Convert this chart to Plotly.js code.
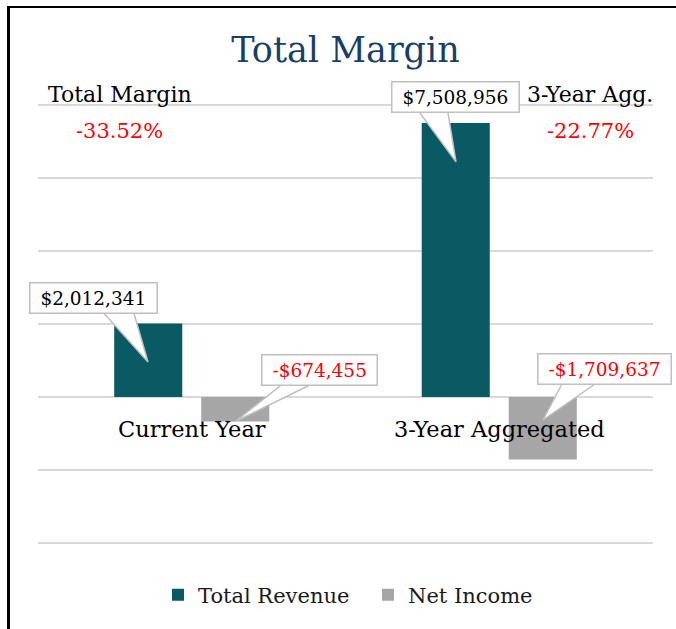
<!DOCTYPE html>
<html>
<head>
<meta charset="utf-8">
<script src="https://cdn.plot.ly/plotly-3.0.1.min.js"></script>
<style>
  html, body { margin: 0; padding: 0; background: #ffffff; overflow: hidden; }
  #wrap { position: relative; width: 676px; height: 629px; }
  #chart { position: absolute; left: 0; top: 0; width: 676px; height: 629px; }
  #frame { position: absolute; left: 7px; top: 6px; width: 720px; height: 700px;
           border-left: 3px solid #000; border-top: 2px solid #000; pointer-events: none; }
</style>
</head>
<body>
<div id="wrap">
  <div id="chart"></div>
  <div id="frame"></div>
</div>
<script>
// ---- data ----
const categories = ["Current Year", "3-Year Aggregated"];
const totalRevenue = [2012341, 7508956];
const netIncome = [-674455, -1709637];
const seriesNames = ["Total Revenue", "Net Income"];
const chartTitle = "Total Margin";
const marginLabels = ["Total Margin", "3-Year Agg."];
const marginValues = ["-33.52%", "-22.77%"];

// ---- style ----
const FONT = "DejaVu Serif";
const TEAL = "#095A63";
const GRAY = "#A6A6A6";
const CALLOUT = "#BFBFBF";

function money(v) {
  const s = "$" + Math.abs(v).toLocaleString("en-US");
  return v < 0 ? "-" + s : s;
}

// ---- geometry ----
const W = 676, H = 629;
const ML = 38, MR = 23;
const PXPERUNIT = 438 / 12000000;     // 73 px per 2M
const padPx = 4;                       // keep end gridlines visible
const PAD = padPx / PXPERUNIT;
const MT = 105 - padPx, MB = 86 - padPx;
const plotW = W - ML - MR, plotH = H - MT - MB;
const paperX = px => (px - ML) / plotW;
const paperY = py => (H - MB - py) / plotH;

// callout geometry (pixels, relative to category centre / bar end; y up)
const calloutRev = [
  { box: [-98.75, 25.6], tip: [-43.75, -38.4], base: [-90.75, -58.75, 13.6] },
  { box: [-44.25, 25.5], tip: [-43.25, -39.0], base: [-81.5, -51.75, 13.0] }
];
const calloutNI = [
  { box: [127.25, 52.1], tip: [43.5, 0.0], base: [92.0, 122.25, 38.6] },
  { box: [105.25, 90.9], tip: [43.75, 39.4], base: [65.35, 103.05, 80.4] }
];

const shapes = [];
const annotations = [];

function addCallout(cat, val, g, color) {
  shapes.push({
    type: "path", xref: "x", yref: "y",
    xsizemode: "pixel", ysizemode: "pixel",
    xanchor: cat, yanchor: val,
    path: `M${g.tip[0]},${g.tip[1]} L${g.base[0]},${g.base[2]} L${g.base[1]},${g.base[2]} Z`,
    fillcolor: "#ffffff", line: { color: CALLOUT, width: 1.5 }, layer: "above"
  });
  annotations.push({
    xref: "x", yref: "y", x: cat, y: val, showarrow: false,
    xshift: g.box[0], yshift: g.box[1],
    text: "\u00a0" + money(val) + "\u00a0",
    font: { family: FONT, size: 18.5, color: color },
    bgcolor: "#ffffff", bordercolor: CALLOUT, borderwidth: 1.5, borderpad: 4
  });
}

categories.forEach((c, i) => {
  addCallout(c, totalRevenue[i], calloutRev[i], totalRevenue[i] < 0 ? "#FF0000" : "#000000");
  addCallout(c, netIncome[i], calloutNI[i], netIncome[i] < 0 ? "#FF0000" : "#000000");
  // category label next to zero line
  annotations.push({
    xref: "x", yref: "y", x: c, y: 0, yshift: -32, showarrow: false,
    text: c, font: { family: FONT, size: 22.5, color: "#000000" }, yanchor: "middle"
  });
});

// margin text boxes
annotations.push({
  xref: "paper", yref: "paper", x: paperX(46), y: paperY(95), xanchor: "left", yanchor: "middle",
  showarrow: false, text: marginLabels[0], font: { family: FONT, size: 22, color: "#000000" }
});
annotations.push({
  xref: "paper", yref: "paper", x: paperX(119), y: paperY(131), xanchor: "center", yanchor: "middle",
  showarrow: false, text: marginValues[0], font: { family: FONT, size: 21, color: "#FF0000" }
});
annotations.push({
  xref: "paper", yref: "paper", x: paperX(525), y: paperY(95), xanchor: "left", yanchor: "middle",
  showarrow: false, text: marginLabels[1], font: { family: FONT, size: 22, color: "#000000" }
});
annotations.push({
  xref: "paper", yref: "paper", x: paperX(590), y: paperY(131), xanchor: "center", yanchor: "middle",
  showarrow: false, text: marginValues[1], font: { family: FONT, size: 21, color: "#FF0000" }
});

const traces = [
  { type: "bar", name: seriesNames[0], x: categories, y: totalRevenue,
    marker: { color: TEAL }, hoverinfo: "none" },
  { type: "bar", name: seriesNames[1], x: categories, y: netIncome,
    marker: { color: GRAY }, hoverinfo: "none" }
];

const layout = {
  width: W, height: H,
  margin: { l: ML, r: MR, t: MT, b: MB, pad: 0 },
  paper_bgcolor: "#ffffff", plot_bgcolor: "#ffffff",
  barmode: "group", bargap: 0.434, bargroupgap: 0.218,
  title: {
    text: chartTitle, xref: "paper", x: 0.5, xanchor: "center",
    yref: "container", y: 1 - 50 / H, yanchor: "middle",
    font: { family: FONT, size: 35, color: "#1A3F66" }
  },
  xaxis: { range: [-0.5, 1.5], autorange: false, fixedrange: true,
           showticklabels: false, showgrid: false, zeroline: false, showline: false, ticks: "" },
  yaxis: {
    range: [-4000000 - PAD, 8000000 + PAD], autorange: false, fixedrange: true,
    dtick: 2000000, tick0: 0,
    showticklabels: false, ticks: "", showline: false,
    showgrid: true, gridcolor: "#D9D9D9", gridwidth: 1.5,
    zeroline: true, zerolinecolor: "#D9D9D9", zerolinewidth: 1.5
  },
  showlegend: true,
  legend: {
    orientation: "h", xref: "paper", yref: "paper", x: paperX(368), xanchor: "center",
    y: paperY(595), yanchor: "middle", entrywidth: 165, entrywidthmode: "pixels",
    font: { family: FONT, size: 21, color: "#1A1A1A" }, itemwidth: 30
  },
  shapes: shapes,
  annotations: annotations
};

Plotly.newPlot("chart", traces, layout, { displayModeBar: false, staticPlot: true });
</script>
</body>
</html>
